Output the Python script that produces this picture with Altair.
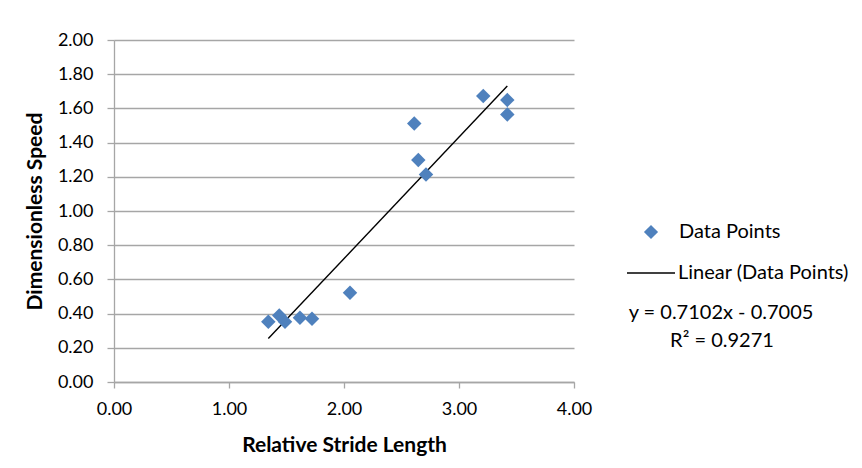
import altair as alt
import pandas as pd

stride = [1.342, 1.437, 1.487, 1.617, 1.722, 2.052, 2.611, 2.646, 2.713, 3.211, 3.420, 3.420]
speed = [0.352, 0.389, 0.352, 0.376, 0.370, 0.522, 1.511, 1.298, 1.214, 1.672, 1.649, 1.565]
y_ticks = [0.0, 0.2, 0.4, 0.6, 0.8, 1.0, 1.2, 1.4, 1.6, 1.8, 2.0]
x_ticks = [0, 1, 2, 3, 4]
eq_lines = ["y = 0.7102x - 0.7005", "R² = 0.9271"]

FONT = "Lato"
GRID = "#a6a6a6"
BLUE = "#4f81bd"

df = pd.DataFrame({"x": stride, "y": speed})

xenc = alt.X("x:Q", scale=alt.Scale(domain=[0, 4], nice=False),
             axis=alt.Axis(title="Relative Stride Length", values=x_ticks, format=".2f",
                           grid=False, tickSize=6, labelPadding=12, titlePadding=16,
                           labelFlush=False, labelOverlap=False))
yenc = alt.Y("y:Q", scale=alt.Scale(domain=[0, 2], nice=False),
             axis=alt.Axis(title="Dimensionless Speed", values=y_ticks, format=".2f",
                           grid=True, tickSize=7, labelPadding=14, titlePadding=12,
                           labelFlush=False, labelOverlap=False))

points = alt.Chart(df).transform_calculate(series="'Data Points'").mark_point(
    filled=True, size=210, color=BLUE, opacity=1
).encode(
    x=xenc, y=yenc,
    shape=alt.Shape("series:N", scale=alt.Scale(domain=["Data Points"], range=["diamond"]),
                    legend=alt.Legend(title=None, orient="none", legendX=527, legendY=182,
                                      symbolFillColor=BLUE, symbolStrokeColor=BLUE, symbolSize=200,
                                      labelFont=FONT, labelFontSize=20, labelColor="#000",
                                      labelOffset=18, labelLimit=0)),
)

line = alt.Chart(df).transform_regression("x", "y", method="linear").transform_calculate(
    series="'Linear (Data Points)'"
).mark_line(strokeWidth=1.4).encode(
    x=xenc, y=yenc,
    color=alt.Color("series:N", scale=alt.Scale(domain=["Linear (Data Points)"], range=["black"]),
                    legend=alt.Legend(title=None, orient="none", legendX=512, legendY=208,
                                      symbolType="stroke", symbolSize=2304, symbolStrokeWidth=1.4,
                                      labelFont=FONT, labelFontSize=20, labelColor="#000",
                                      labelOffset=2, labelLimit=0)),
)

eq_df = pd.DataFrame({"t": eq_lines, "i": [0, 1]})
eq_base = alt.Chart(eq_df).mark_text(font=FONT, fontSize=20, color="#000", align="center", baseline="middle")
eq1 = eq_base.transform_filter("datum.i == 0").encode(text="t:N", x=alt.value(607), y=alt.value(273))
eq2 = eq_base.transform_filter("datum.i == 1").encode(text="t:N", x=alt.value(608), y=alt.value(301))

chart = alt.layer(line, points, eq1, eq2).properties(
    width=460, height=342,
    autosize=alt.AutoSizeParams(type="none"),
    padding={"left": 106, "top": 32, "right": 280, "bottom": 78},
    background="white",
).configure_view(stroke=None).configure_axis(
    domainColor=GRID, tickColor=GRID, gridColor=GRID, gridWidth=1.3, domainWidth=1.3, tickWidth=1.3,
    labelFont=FONT, labelFontSize=18, labelColor="#000",
    titleFont=FONT, titleFontSize=21, titleFontWeight="bold", titleColor="#000",
)

chart.save("out.html", embed_options={"renderer": "svg", "actions": False})
